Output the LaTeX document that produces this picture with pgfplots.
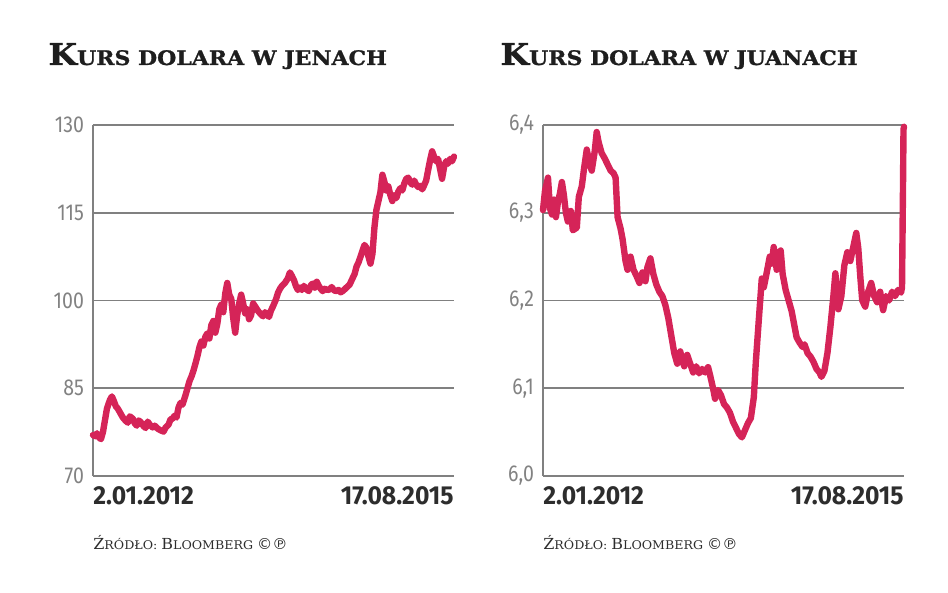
\documentclass[border=0pt]{standalone}
\usepackage{fontspec}
\usepackage{pgfplots}
\pgfplotsset{compat=1.18}
\setmainfont{DejaVu Serif}
\newfontfamily\titlefont[FakeStretch=1.1, FakeBold=1.2]{DejaVu Serif Bold}
\newfontfamily\tickfont[FakeStretch=0.85]{Fira Sans}
\newfontfamily\datefont[FakeStretch=0.95]{Fira Sans}
\newfontfamily\srcfont[FakeStretch=1.05]{DejaVu Serif}
\newfontfamily\symfont{DejaVu Sans}
\definecolor{linecol}{RGB}{213,36,88}
\definecolor{gridcol}{RGB}{128,128,128}
\definecolor{ticklab}{RGB}{130,130,130}
\definecolor{datecol}{RGB}{45,45,45}
\definecolor{titlecol}{RGB}{30,30,30}

\pgfplotsset{
  kurs/.style={
    scale only axis,
    width=180.5pt, height=175.5pt,
    xmin=2012, xmax=2015.63,
    axis x line=bottom, axis y line=left,
    axis line style={-, draw=gridcol, line width=0.8pt},
    ymajorgrids, grid style={draw=gridcol, line width=0.8pt},
    xtick=\empty,
    major tick length=0pt,
    /pgf/number format/assume math mode=true,
    yticklabel style={font=\tickfont\fontsize{11.5}{12}\selectfont, text=ticklab, xshift=-1pt},
    clip=false,
  },
  kline/.style={linecol, line width=3.2pt, line join=round, line cap=round, no markers},
}
\tikzset{
  datenode/.style={inner sep=0pt, font=\datefont\bfseries\fontsize{13}{14}\selectfont, text=datecol},
}

\begin{document}
\begin{tikzpicture}
\useasboundingbox (0,0) rectangle (474pt,296.5pt);

% lewy wykres: USD/JPY
\begin{axis}[kurs, at={(46.5pt,58.5pt)}, anchor=south west,
  ymin=70, ymax=130, ytick={70,85,100,115,130}]
\addplot[kline] coordinates {
(2012.00,77.0) (2012.02,76.8) (2012.04,77.3) (2012.06,76.6) (2012.08,76.3)
(2012.10,77.5) (2012.12,79.5) (2012.14,81.5) (2012.17,83.0) (2012.19,83.6)
(2012.21,82.8) (2012.23,81.9) (2012.25,81.5) (2012.28,80.6) (2012.30,80.0)
(2012.32,79.6) (2012.35,79.1) (2012.37,80.2) (2012.40,79.8) (2012.42,79.0)
(2012.44,78.6) (2012.46,79.5) (2012.48,79.2) (2012.51,78.5) (2012.53,78.2)
(2012.55,79.3) (2012.57,78.8) (2012.60,78.3) (2012.62,78.6) (2012.65,78.1)
(2012.68,77.8) (2012.71,77.6) (2012.73,78.3) (2012.76,78.8) (2012.78,79.7)
(2012.80,79.8) (2012.82,80.3) (2012.84,80.0) (2012.86,81.7) (2012.88,82.5)
(2012.90,82.2) (2012.93,83.8) (2012.95,85.0) (2012.97,86.2) (2012.99,87.0)
(2013.01,88.0) (2013.03,89.2) (2013.05,90.5) (2013.07,92.0) (2013.09,93.0)
(2013.11,92.3) (2013.13,93.8) (2013.15,94.4) (2013.17,93.5) (2013.19,95.8)
(2013.21,96.5) (2013.23,94.5) (2013.25,96.0) (2013.27,98.5) (2013.29,99.3)
(2013.31,98.0) (2013.33,101.2) (2013.35,103.0) (2013.37,101.0) (2013.39,100.3)
(2013.41,97.0) (2013.43,94.5) (2013.45,97.5) (2013.47,99.5) (2013.49,101.0)
(2013.51,99.5) (2013.53,97.8) (2013.55,98.5) (2013.57,96.8) (2013.59,97.5)
(2013.61,99.5) (2013.63,99.0) (2013.66,98.2) (2013.68,97.8) (2013.71,97.3)
(2013.73,98.0) (2013.75,97.6) (2013.77,97.2) (2013.79,98.3) (2013.81,99.0)
(2013.84,100.2) (2013.86,101.3) (2013.88,102.0) (2013.90,102.5) (2013.93,103.0)
(2013.96,103.8) (2013.98,104.8) (2014.00,104.2) (2014.02,103.5) (2014.04,102.5)
(2014.06,101.8) (2014.08,102.2) (2014.10,101.8) (2014.12,102.5) (2014.14,102.0)
(2014.17,101.6) (2014.19,102.6) (2014.21,102.9) (2014.23,102.2) (2014.25,103.2)
(2014.27,102.5) (2014.29,102.0) (2014.31,101.6) (2014.33,102.0) (2014.36,101.8)
(2014.38,101.9) (2014.40,102.3) (2014.42,101.8) (2014.44,101.6) (2014.47,101.8)
(2014.49,101.4) (2014.51,101.6) (2014.53,101.9) (2014.56,102.4) (2014.58,102.7)
(2014.61,103.8) (2014.63,104.5) (2014.65,105.8) (2014.67,106.5) (2014.69,107.5)
(2014.71,108.5) (2014.73,109.5) (2014.75,109.0) (2014.77,107.5) (2014.79,106.3)
(2014.81,108.0) (2014.83,112.5) (2014.85,115.5) (2014.87,117.0) (2014.89,118.5)
(2014.91,121.5) (2014.93,120.3) (2014.95,118.8) (2014.97,119.5) (2014.99,118.0)
(2015.01,117.0) (2015.03,118.0) (2015.05,117.5) (2015.07,118.6) (2015.09,119.2)
(2015.11,118.8) (2015.13,120.0) (2015.15,120.8) (2015.17,121.0) (2015.19,120.2)
(2015.21,119.8) (2015.23,120.5) (2015.25,119.8) (2015.27,119.4) (2015.29,119.6)
(2015.31,119.0) (2015.33,119.7) (2015.35,120.5) (2015.37,122.3) (2015.39,124.0)
(2015.41,125.5) (2015.43,124.6) (2015.45,123.8) (2015.47,124.2) (2015.49,122.5)
(2015.51,120.8) (2015.53,122.8) (2015.55,123.8) (2015.57,123.4) (2015.59,124.2)
(2015.61,123.8) (2015.63,124.6)
};
\node[datenode, anchor=north west] at ([yshift=-5pt]rel axis cs:0,0) {2.01.2012};
\node[datenode, anchor=north east] at ([yshift=-5pt]rel axis cs:1,0) {17.08.2015};
\end{axis}

% prawy wykres: USD/CNY
\begin{axis}[kurs, at={(271.5pt,58.5pt)}, anchor=south west,
  ymin=6.0, ymax=6.4, ytick={6.0,6.1,6.2,6.3,6.4},
  yticklabel style={/pgf/number format/.cd, use comma, fixed, fixed zerofill, precision=1}]
\addplot[kline] coordinates {
(2012.00,6.303) (2012.02,6.325) (2012.05,6.340) (2012.07,6.305) (2012.09,6.298)
(2012.11,6.315) (2012.13,6.295) (2012.15,6.312) (2012.17,6.322) (2012.19,6.335)
(2012.21,6.320) (2012.23,6.300) (2012.25,6.290) (2012.28,6.302) (2012.30,6.280)
(2012.34,6.283) (2012.36,6.318) (2012.39,6.330) (2012.41,6.348) (2012.44,6.372)
(2012.46,6.360) (2012.49,6.348) (2012.52,6.370) (2012.54,6.392) (2012.56,6.380)
(2012.59,6.368) (2012.62,6.362) (2012.65,6.355) (2012.68,6.348) (2012.71,6.345)
(2012.73,6.340) (2012.75,6.295) (2012.78,6.282) (2012.80,6.270) (2012.83,6.245)
(2012.85,6.235) (2012.88,6.250) (2012.91,6.235) (2012.94,6.228) (2012.97,6.220)
(2013.00,6.232) (2013.03,6.222) (2013.05,6.238) (2013.08,6.248) (2013.11,6.230)
(2013.14,6.218) (2013.17,6.210) (2013.20,6.205) (2013.23,6.195) (2013.26,6.180)
(2013.29,6.160) (2013.32,6.140) (2013.35,6.128) (2013.38,6.142) (2013.40,6.132)
(2013.42,6.125) (2013.45,6.138) (2013.48,6.128) (2013.51,6.118) (2013.54,6.125)
(2013.57,6.117) (2013.60,6.122) (2013.63,6.118) (2013.66,6.124) (2013.68,6.115)
(2013.71,6.100) (2013.73,6.088) (2013.76,6.098) (2013.79,6.092) (2013.82,6.082)
(2013.85,6.078) (2013.88,6.072) (2013.91,6.062) (2013.94,6.055) (2013.97,6.048)
(2014.00,6.044) (2014.03,6.052) (2014.06,6.060) (2014.09,6.066) (2014.12,6.090)
(2014.14,6.130) (2014.17,6.178) (2014.20,6.225) (2014.22,6.215) (2014.25,6.232)
(2014.28,6.250) (2014.30,6.242) (2014.32,6.261) (2014.35,6.235) (2014.37,6.252)
(2014.39,6.257) (2014.41,6.230) (2014.44,6.212) (2014.47,6.200) (2014.50,6.188)
(2014.53,6.170) (2014.55,6.158) (2014.58,6.152) (2014.61,6.147) (2014.63,6.150)
(2014.66,6.140) (2014.69,6.136) (2014.72,6.130) (2014.75,6.122) (2014.78,6.118)
(2014.80,6.113) (2014.83,6.120) (2014.86,6.140) (2014.89,6.170) (2014.92,6.205)
(2014.94,6.231) (2014.97,6.190) (2015.00,6.205) (2015.03,6.240) (2015.06,6.255)
(2015.09,6.245) (2015.12,6.261) (2015.15,6.277) (2015.17,6.260) (2015.19,6.228)
(2015.21,6.200) (2015.24,6.193) (2015.27,6.210) (2015.30,6.220) (2015.33,6.205)
(2015.36,6.198) (2015.39,6.210) (2015.42,6.189) (2015.45,6.205) (2015.48,6.200)
(2015.51,6.210) (2015.54,6.205) (2015.57,6.212) (2015.60,6.209) (2015.61,6.215)
(2015.62,6.330) (2015.625,6.395) (2015.63,6.398)
};
\node[datenode, anchor=north west] at ([yshift=-5pt]rel axis cs:0,0) {2.01.2012};
\node[datenode, anchor=north east] at ([yshift=-5pt]rel axis cs:1,0) {17.08.2015};
\end{axis}

% tytuly
\node[anchor=base west, inner sep=0pt, text=titlecol] at (24pt,264pt)
  {\titlefont\fontsize{15}{16}\selectfont K\fontsize{10}{11}\selectfont URS DOLARA W JENACH};
\node[anchor=base west, inner sep=0pt, text=titlecol] at (250pt,264pt)
  {\titlefont\fontsize{15}{16}\selectfont K\fontsize{10}{11}\selectfont URS DOLARA W JUANACH};

% zrodlo
\node[anchor=base west, inner sep=0pt, text=datecol] at (46.5pt,21.5pt)
  {\srcfont\fontsize{7.6}{8}\selectfont Ź\fontsize{6}{7}\selectfont RÓDŁO: \fontsize{7.6}{8}\selectfont B\fontsize{6}{7}\selectfont LOOMBERG \symfont\fontsize{7.6}{8}\selectfont ©℗};
\node[anchor=base west, inner sep=0pt, text=datecol] at (271.5pt,21.5pt)
  {\srcfont\fontsize{7.6}{8}\selectfont Ź\fontsize{6}{7}\selectfont RÓDŁO: \fontsize{7.6}{8}\selectfont B\fontsize{6}{7}\selectfont LOOMBERG \symfont\fontsize{7.6}{8}\selectfont ©℗};
\end{tikzpicture}
\end{document}
